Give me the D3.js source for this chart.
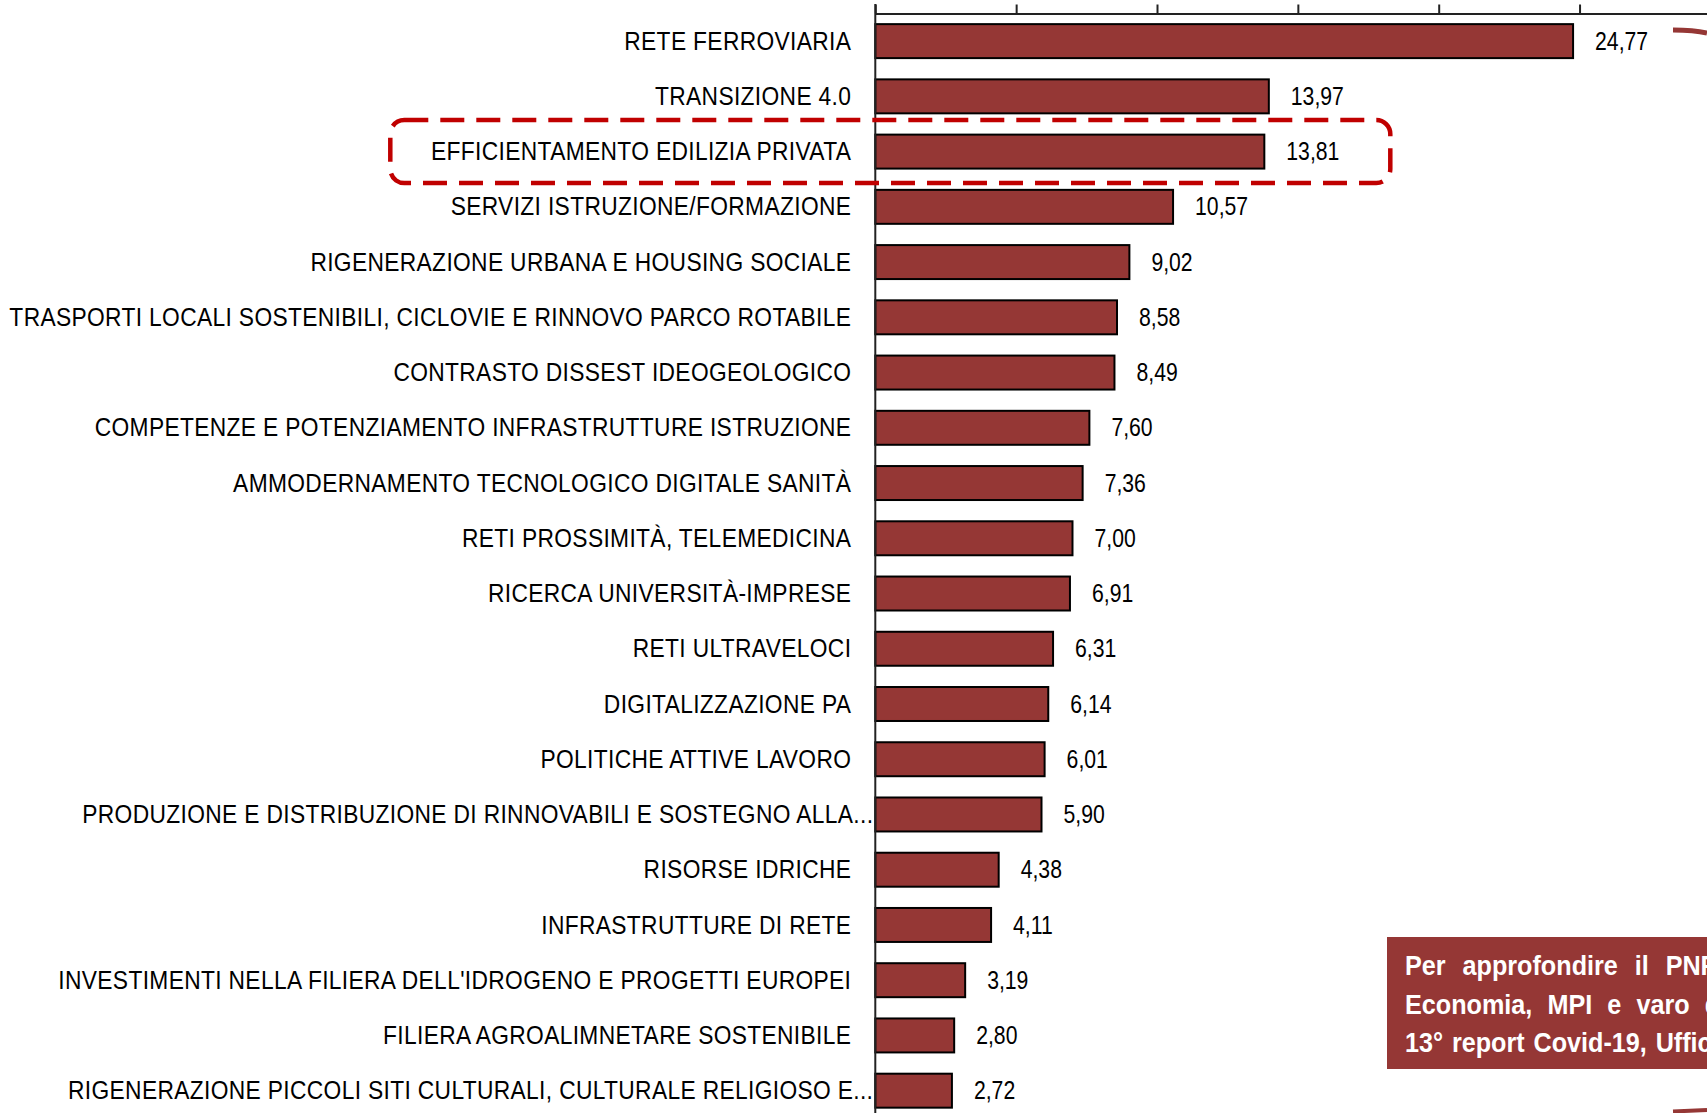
<!DOCTYPE html>
<html>
<head>
<meta charset="utf-8">
<script src="https://cdn.jsdelivr.net/npm/d3@7"></script>
<style>
  html, body { margin: 0; padding: 0; background: #fff; overflow: hidden; }
  svg { display: block; }
</style>
</head>
<body>
<div id="chart"></div>
<script>
const categories = [
	"RETE FERROVIARIA",
	"TRANSIZIONE 4.0",
	"EFFICIENTAMENTO EDILIZIA PRIVATA",
	"SERVIZI ISTRUZIONE/FORMAZIONE",
	"RIGENERAZIONE URBANA E HOUSING SOCIALE",
	"TRASPORTI LOCALI SOSTENIBILI, CICLOVIE E RINNOVO PARCO ROTABILE",
	"CONTRASTO DISSEST IDEOGEOLOGICO",
	"COMPETENZE E POTENZIAMENTO INFRASTRUTTURE ISTRUZIONE",
	"AMMODERNAMENTO TECNOLOGICO DIGITALE SANITÀ",
	"RETI PROSSIMITÀ, TELEMEDICINA",
	"RICERCA UNIVERSITÀ-IMPRESE",
	"RETI ULTRAVELOCI",
	"DIGITALIZZAZIONE PA",
	"POLITICHE ATTIVE LAVORO",
	"PRODUZIONE E DISTRIBUZIONE DI RINNOVABILI E SOSTEGNO ALLA...",
	"RISORSE IDRICHE",
	"INFRASTRUTTURE DI RETE",
	"INVESTIMENTI NELLA FILIERA DELL'IDROGENO E PROGETTI EUROPEI",
	"FILIERA AGROALIMNETARE SOSTENIBILE",
	"RIGENERAZIONE PICCOLI SITI CULTURALI, CULTURALE RELIGIOSO E..."
];
const values = [24.77, 13.97, 13.81, 10.57, 9.02, 8.58, 8.49, 7.60, 7.36, 7.00,
	6.91, 6.31, 6.14, 6.01, 5.90, 4.38, 4.11, 3.19, 2.80, 2.72];
const tickValues = [0, 5, 10, 15, 20, 25, 30];
const highlighted = "EFFICIENTAMENTO EDILIZIA PRIVATA";
const noteLines = [
	"Per approfondire il PNRR e le",
	"Economia, MPI e varo del Decreto",
	"13° report Covid-19, Ufficio Studi"
];

const width = 1707;
const height = 1113;
const barColor = "#953735";
// no Arial Narrow here: squeeze Liberation Sans horizontally instead
const labelFont = "'Liberation Sans', Arial, sans-serif";

const svg = d3.select("#chart")
	.append("svg")
	.attr("width", width)
	.attr("height", height);

// scales: 5 units = ~140.8px, bars are a band of ~55px each
const x = d3.scaleLinear().domain([0, 30]).range([875.3, 1720.4]);
const y = d3.scaleBand()
	.domain(categories)
	.range([13.5, 13.5 + categories.length * 55.24])
	.paddingInner(0.385)
	.paddingOuter(0.1925);

const rows = categories.map((c, i) => ({ name: c, value: values[i] }));

// top axis with upward ticks, no labels
const topAxis = svg.append("g")
	.attr("transform", `translate(0, ${y.range()[0]})`)
	.call(d3.axisTop(x).tickValues(tickValues).tickSize(9).tickSizeOuter(0).tickFormat(""));
topAxis.select(".domain").attr("stroke", "#222").attr("stroke-width", 2);
topAxis.selectAll(".tick line").attr("stroke", "#222").attr("stroke-width", 2);

// bars
svg.append("g")
	.selectAll("rect")
	.data(rows)
	.join("rect")
	.attr("x", x(0))
	.attr("y", (d) => y(d.name))
	.attr("width", (d) => x(d.value) - x(0))
	.attr("height", y.bandwidth())
	.attr("fill", barColor)
	.attr("stroke", "#000")
	.attr("stroke-width", 2);

// vertical axis line (runs off the bottom of the picture)
svg.append("line")
	.attr("x1", x(0)).attr("x2", x(0))
	.attr("y1", 4).attr("y2", height)
	.attr("stroke", "#222")
	.attr("stroke-width", 2);

const fontSize = 26.5;
const baseY = (d) => y(d.name) + y.bandwidth() / 2 + fontSize * 0.36 - 1;

// category labels, the cut ones ("...") run up to the axis
svg.append("g")
	.selectAll("text")
	.data(rows)
	.join("text")
	.attr("transform", (d) => {
		const lx = d.name.endsWith("...") ? x(0) - 2 : x(0) - 24;
		return `translate(${lx},${baseY(d)}) scale(0.86,1)`;
	})
	.attr("text-anchor", "end")
	.style("font-family", labelFont)
	.style("font-size", fontSize + "px")
	.style("letter-spacing", "0.4px")
	.attr("fill", "#000")
	.text((d) => d.name);

// value labels
const fmt = (v) => d3.format(".2f")(v).replace(".", ",");
svg.append("g")
	.selectAll("text")
	.data(rows)
	.join("text")
	.attr("transform", (d) => `translate(${x(d.value) + 22},${baseY(d)}) scale(0.8,1)`)
	.style("font-family", labelFont)
	.style("font-size", fontSize + "px")
	.attr("fill", "#000")
	.text((d) => fmt(d.value));

// dashed red frame round the highlighted row
const hy = y(highlighted) + y.bandwidth() / 2;
svg.append("rect")
	.attr("x", x(0) - 485)
	.attr("y", hy - 31.5)
	.attr("width", 1000)
	.attr("height", 63)
	.attr("rx", 14)
	.attr("fill", "none")
	.attr("stroke", "#c00000")
	.attr("stroke-width", 4.5)
	.attr("stroke-dasharray", "24 12");

// note box at the bottom right, cut by the edge
svg.append("rect")
	.attr("x", 1387)
	.attr("y", 937)
	.attr("width", 340)
	.attr("height", 132)
	.attr("fill", barColor);

svg.append("g")
	.selectAll("text")
	.data(noteLines)
	.join("text")
	.attr("transform", (d, i) => `translate(1405,${975 + i * 38.5}) scale(0.9,1)`)
	.style("font-family", labelFont)
	.style("font-weight", "bold")
	.style("font-size", "28px")
	.style("word-spacing", (d, i) => [11, 9, 2][i] + "px")
	.attr("fill", "#fff")
	.text((d) => d);

// pieces of a red arrow coming in from the right edge
svg.append("path")
	.attr("d", "M1673,30 Q1694,30 1707,33")
	.attr("fill", "none")
	.attr("stroke", barColor)
	.attr("stroke-width", 5);
svg.append("path")
	.attr("d", "M1673,1111.5 L1707,1110")
	.attr("fill", "none")
	.attr("stroke", barColor)
	.attr("stroke-width", 4);
</script>
</body>
</html>
